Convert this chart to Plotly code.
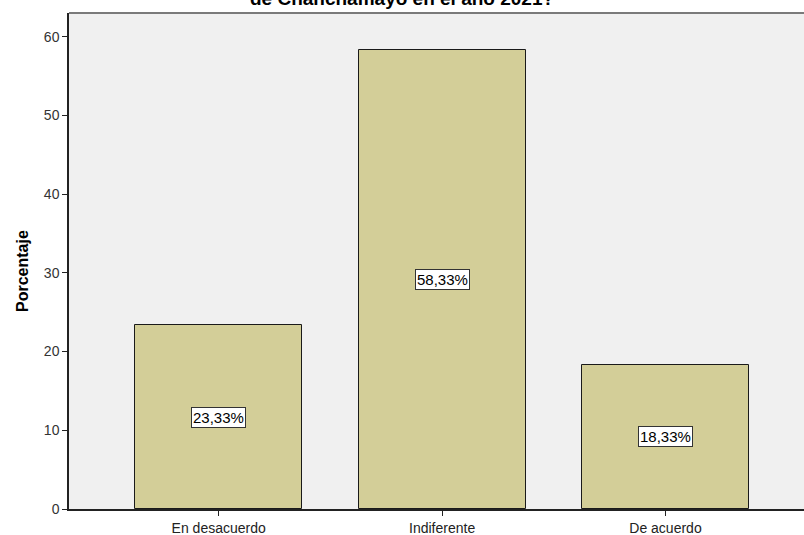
import plotly.graph_objects as go

categories = ["En desacuerdo", "Indiferente", "De acuerdo"]
values = [23.33, 58.33, 18.33]
labels = ["23,33%", "58,33%", "18,33%"]
title_text = "de Chanchamayo en el año 2021?"
y_title = "Porcentaje"

FONT = "Liberation Sans, Arial, sans-serif"

fig = go.Figure()
fig.add_trace(go.Bar(
    x=list(range(len(categories))),
    y=values,
    width=0.747,
    marker=dict(color="#D3CE98", line=dict(color="#1a1a1a", width=1)),
    hoverinfo="skip",
))

for i, (v, lab) in enumerate(zip(values, labels)):
    fig.add_annotation(
        x=i, y=v / 2, xref="x", yref="y", text=lab, showarrow=False,
        font=dict(family=FONT, size=15, color="#000000"),
        bgcolor="#FFFFFF", bordercolor="#333333", borderwidth=1, borderpad=1,
    )

fig.add_annotation(
    x=(402 - 69) / 735, xref="paper", y=1, yref="paper", yshift=2,
    text="<b>" + title_text + "</b>", showarrow=False,
    font=dict(family=FONT, size=19, color="#000000"),
    yanchor="bottom", xanchor="center",
)

fig.add_annotation(
    x=0, xref="paper", xshift=-47, y=(509 - 271) / 496, yref="paper",
    text="<b>" + y_title + "</b>", showarrow=False, textangle=-90,
    font=dict(family=FONT, size=16, color="#000000"),
    xanchor="center", yanchor="middle",
)

fig.add_shape(type="line", xref="paper", yref="paper", x0=0, x1=1, y0=1, y1=1,
              line=dict(color="#7a7a7a", width=2))

fig.update_layout(
    width=804, height=535,
    margin=dict(l=69, r=0, t=13, b=26),
    paper_bgcolor="#FFFFFF",
    plot_bgcolor="#F0F0F0",
    showlegend=False,
    bargap=0,
    font=dict(family=FONT, size=14, color="#222222"),
)

fig.update_xaxes(
    range=[-0.67, 2.62],
    tickmode="array", tickvals=list(range(len(categories))), ticktext=categories,
    showgrid=False, zeroline=False,
    showline=True, linecolor="#222222", linewidth=1.5,
    ticks="outside", ticklen=5, tickcolor="#222222",
    tickfont=dict(family=FONT, size=14, color="#222222"),
)
fig.update_yaxes(
    range=[0, 63], dtick=10, tick0=0,
    showgrid=False, zeroline=False,
    showline=True, linecolor="#222222", linewidth=1.5,
    ticks="outside", ticklen=5, tickcolor="#222222",
    tickfont=dict(family=FONT, size=14, color="#333333"),
)

fig.write_html("out.html")
